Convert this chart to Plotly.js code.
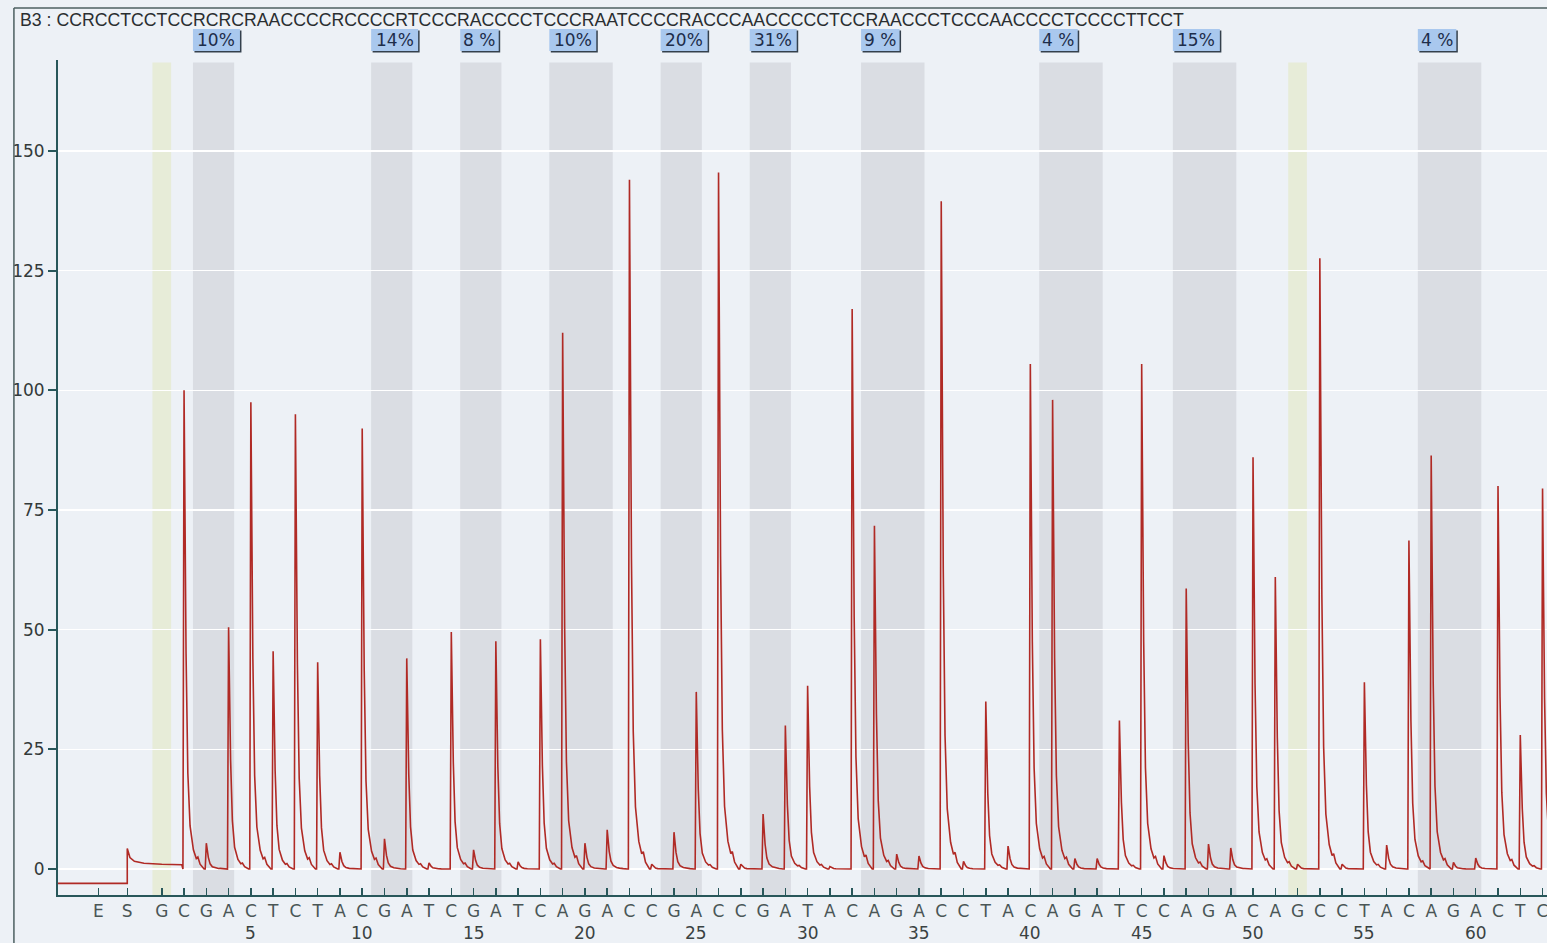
<!DOCTYPE html>
<html><head><meta charset="utf-8">
<script src="https://cdn.plot.ly/plotly-3.0.1.min.js"></script>
<style>html,body{margin:0;padding:0;background:#edf1f6;overflow:hidden;} #chart{width:1547px;height:943px;}</style>
</head><body><div id="chart"></div>
<script>
// ---- data ----
const sampleTitle = 'B3 : CCRCCTCCTCCRCRCRAACCCCRCCCCRTCCCRACCCCTCCCRAATCCCCRACCCAACCCCCTCCRAACCCTCCCAACCCCTCCCCTTCCT';
const leadLabels = ['E', 'S'];
const leadTickPos = [-1.85, -0.55];
const dispensation = ['G','C','G','A','C','T','C','T','A','C','G','A','T','C','G','A','T','C','A','G',
  'A','C','C','G','A','C','C','G','A','T','A','C','A','G','A','C','C','T','A','C',
  'A','G','A','T','C','C','A','G','A','C','A','G','C','C','T','A','C','A','G','A',
  'C','T','C'];
const peakHeights = [0, 100, 5.4, 50.5, 97.5, 45.5, 95, 43.2, 3.5, 92,
  6.3, 44, 1.3, 49.5, 4, 47.6, 1.5, 48, 112, 5.4,
  8.2, 144, 1, 7.7, 37, 145.5, 1, 11.5, 30, 38.3,
  0.5, 117, 71.7, 3.1, 2.7, 139.5, 1.6, 35, 4.8, 105.5,
  98, 2.2, 2.2, 31, 105.5, 2.8, 58.6, 5.2, 4.4, 86,
  61, 1, 127.6, 1, 39, 5, 68.6, 86.4, 1.4, 2.3,
  80, 28, 79.5];
// signal before the first nucleotide (enzyme / substrate steps)
const leadX = [-3.66, -0.55, -0.55, -0.43, -0.23, 0.2, 1.0, 1.9];
const leadY = [-3.0, -3.0, 4.3, 2.4, 1.6, 1.2, 1.0, 0.9];
// shape of a single light-emission peak, as fraction of its height
const peakOffsets = [-0.05, 0, 0.09, 0.17, 0.27, 0.42, 0.55, 0.62, 0.72, 0.9];
const peakFractions = [0, 1, 0.45, 0.2, 0.09, 0.04, 0.022, 0.025, 0.01, 0];
// variable positions (first, last dispensation) and their values
const bandFirst = [3, 11, 15, 19, 24, 28, 33, 41, 47, 58];
const bandLast  = [4, 12, 16, 21, 25, 29, 35, 43, 49, 60];
const bandLabels = ['10%', '14%', '8 %', '10%', '20%', '31%', '9 %', '4 %', '15%', '4 %'];
const controlPositions = [1, 52];
const positionNumbers = [5, 10, 15, 20, 25, 30, 35, 40, 45, 50, 55, 60];
const yTicks = [0, 25, 50, 75, 100, 125, 150];

// ---- build the trace ----
const xs = leadX.slice(), ys = leadY.slice();
peakHeights.forEach((h, i) => {
  if (h <= 0) return;
  const p = i + 1;
  peakOffsets.forEach((o, k) => { xs.push(p + o); ys.push(h * peakFractions[k]); });
});

const teal = '#28575a';
const shapes = [];
const annotations = [];

// shaded variable-position bands
bandFirst.forEach((f, i) => {
  shapes.push({type: 'rect', layer: 'below', xref: 'x', yref: 'paper',
    x0: f - 0.6, x1: bandLast[i] + 0.25, y0: 0, y1: 0.997,
    fillcolor: '#dadde3', line: {width: 0}});
});
controlPositions.forEach(p => {
  shapes.push({type: 'rect', layer: 'below', xref: 'x', yref: 'paper',
    x0: p - 0.42, x1: p + 0.42, y0: 0, y1: 0.997,
    fillcolor: '#e7ecd8', line: {width: 0}});
});

// percentage boxes
function boxWidth(t) {
  let w = 8;
  for (const c of t) w += (c === '%') ? 16 : (c === ' ' ? 3 : 11.5);
  return w;
}
bandFirst.forEach((f, i) => {
  const w = boxWidth(bandLabels[i]);
  const yA = 1.024;
  shapes.push({type: 'rect', layer: 'above', xref: 'x', yref: 'paper',
    xsizemode: 'pixel', ysizemode: 'pixel', xanchor: f - 0.6, yanchor: yA,
    x0: 1.5, x1: w + 1.5, y0: -12.5, y1: 9.5, fillcolor: '#34404c', line: {width: 0}});
  shapes.push({type: 'rect', layer: 'above', xref: 'x', yref: 'paper',
    xsizemode: 'pixel', ysizemode: 'pixel', xanchor: f - 0.6, yanchor: yA,
    x0: 0, x1: w, y0: -11, y1: 11, fillcolor: '#a9c8ee', line: {width: 0}});
  annotations.push({xref: 'x', yref: 'paper', x: f - 0.6, y: yA, xshift: w / 2,
    xanchor: 'center', yanchor: 'middle', showarrow: false, text: bandLabels[i],
    font: {family: 'DejaVu Sans', size: 17, color: '#1d2d4a'}});
});

// outer frame
shapes.push({type: 'line', xref: 'paper', yref: 'paper', x0: -0.0296, x1: -0.0296, y0: 1.0623, y1: -0.07,
  line: {color: '#4c5f60', width: 1.5}});
shapes.push({type: 'line', xref: 'paper', yref: 'paper', x0: -0.0296, x1: 1.01, y0: 1.0623, y1: 1.0623,
  line: {color: '#4c5f60', width: 1.5}});

// title
annotations.push({xref: 'paper', yref: 'paper', x: -0.0269, y: 1.0479, xanchor: 'left', yanchor: 'middle',
  showarrow: false, text: sampleTitle, font: {family: 'Liberation Sans', size: 17.7, color: '#2a2e30'}});

// position numbers under dispensation letters
positionNumbers.forEach(n => {
  annotations.push({xref: 'x', yref: 'paper', x: n, y: -0.0455, xanchor: 'center', yanchor: 'middle',
    showarrow: false, text: String(n), font: {family: 'DejaVu Sans', size: 17, color: '#3a4242'}});
});

const tickvals = leadTickPos.concat(dispensation.map((_, i) => i + 1));
const ticktext = leadLabels.concat(dispensation);

const trace = {x: xs, y: ys, type: 'scatter', mode: 'lines',
  line: {color: '#b02a25', width: 1.6}, hoverinfo: 'skip'};

const layout = {
  width: 1547, height: 943,
  margin: {l: 58, r: 0, t: 60, b: 48, pad: 0},
  paper_bgcolor: '#edf1f6', plot_bgcolor: '#edf1f6',
  showlegend: false,
  xaxis: {range: [-3.66, 63.2], tickmode: 'array', tickvals: tickvals, ticktext: ticktext,
    ticks: 'inside', ticklen: 7, tickwidth: 1.5, tickcolor: teal, ticklabeloverflow: 'allow',
    showline: true, linecolor: teal, linewidth: 2, showgrid: false, zeroline: false,
    tickfont: {family: 'DejaVu Sans', size: 17, color: '#4a5656'}, fixedrange: true},
  yaxis: {range: [-5.43, 169], tickmode: 'array', tickvals: yTicks,
    ticks: 'outside', ticklen: 8, tickwidth: 2, tickcolor: teal,
    showline: true, linecolor: teal, linewidth: 2, showgrid: true, gridcolor: '#ffffff', gridwidth: 1.5,
    zeroline: false, tickfont: {family: 'DejaVu Sans', size: 17, color: '#333a3a'}, fixedrange: true},
  shapes: shapes,
  annotations: annotations
};

Plotly.newPlot('chart', [trace], layout, {displayModeBar: false, staticPlot: true});
</script>
</body></html>
